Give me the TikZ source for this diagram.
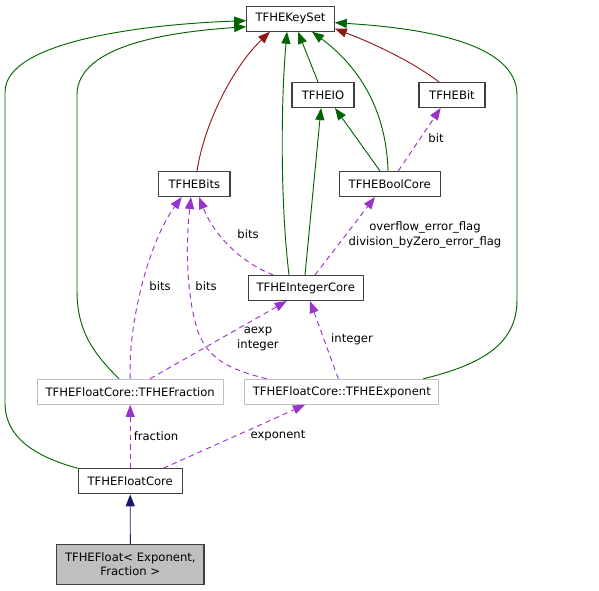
\documentclass[tikz,border=0pt]{standalone}
\usepackage{fontspec}
\setmainfont{DejaVu Sans}
\usetikzlibrary{arrows.meta,calc}
\definecolor{inhgreen}{HTML}{006400}
\definecolor{inhred}{HTML}{8B1A1A}
\definecolor{usepurple}{HTML}{9A32CD}
\definecolor{inhnavy}{HTML}{191970}
\definecolor{boxborder}{HTML}{404040}
\definecolor{lightborder}{HTML}{BFBFBF}
\tikzset{
  cls/.style={draw=boxborder, line width=0.8pt, fill=white, minimum height=18.75pt, inner sep=0pt, font=\fontsize{8.7pt}{10.8pt}\selectfont},
  ext/.style={cls, draw=lightborder},
  lbl/.style={inner sep=0pt, align=center, font=\fontsize{8.7pt}{11.2pt}\selectfont},
  ginh/.style={-{Triangle[length=9pt,width=6.8pt,fill=inhgreen]}, draw=inhgreen, line width=0.7pt},
  rinh/.style={-{Triangle[length=9pt,width=6.8pt,fill=inhred]}, draw=inhred, line width=0.7pt},
  ninh/.style={-{Triangle[length=9pt,width=6.8pt,fill=inhnavy]}, draw=inhnavy, line width=0.7pt},
  puse/.style={-{Triangle[length=9pt,width=6.8pt,fill=usepurple]}, draw=usepurple, line width=0.7pt, dash pattern=on 4pt off 3pt},
}
\begin{document}
\begin{tikzpicture}[x=0.75pt,y=-0.75pt]
\useasboundingbox (0,0) rectangle (599,591);
% nodes
\node[cls, minimum width=65.7pt] (ks) at (290.5,18.7) {TFHEKeySet};
\node[cls, minimum width=46.5pt] (io) at (323,95) {TFHEIO};
\node[cls, minimum width=49.5pt] (bit) at (452,95) {TFHEBit};
\node[cls, minimum width=53.5pt] (bits) at (194.3,184) {TFHEBits};
\node[cls, minimum width=75.5pt] (bool) at (389.7,184) {TFHEBoolCore};
\node[cls, minimum width=86.5pt] (int) at (305.7,288) {TFHEIntegerCore};
\node[ext, minimum width=139.7pt] (frac) at (130.2,391.8) {TFHEFloatCore::TFHEFraction};
\node[ext, minimum width=145.7pt] (expo) at (341.8,391.8) {TFHEFloatCore::TFHEExponent};
\node[cls, minimum width=77.8pt] (fc) at (130.2,481.3) {TFHEFloatCore};
\node[cls, minimum width=110.5pt, minimum height=29.8pt, fill=lightborder, align=center] (fl) at (130.3,564.2) {TFHEFloat\textless{} Exponent,\\ Fraction \textgreater{}};
% inheritance edges to KeySet
\draw[ginh] (fc.north west) .. controls (40,458) and (5,440) .. (5,403) -- (5,92) .. controls (5,40) and (150,24) .. ($(ks.west)+(0,2)$);
\draw[ginh] ($(frac.north)+(-11.2,0)$) .. controls (92,352) and (77,330) .. (77,290) -- (77,95) .. controls (77,45) and (170,32) .. ($(ks.west)+(0,8)$);
\draw[ginh] ($(expo.north)+(81.5,0)$) .. controls (480,365) and (517,345) .. (517,300) -- (517,95) .. controls (517,42) and (420,28) .. ($(ks.east)+(0,4)$);
\draw[rinh] ($(bits.north)+(2.7,0)$) .. controls (205,120) and (235,65) .. ($(ks.south)+(-20.5,0)$);
\draw[ginh] ($(int.north)+(-16.7,0)$) .. controls (280,200) and (281,100) .. ($(ks.south)+(-3.5,0)$);
\draw[ginh] ($(io.north)+(-5,0)$) -- ($(ks.south)+(7.5,0)$);
\draw[ginh] ($(bool.north)+(-1.7,0)$) .. controls (386,100) and (350,60) .. ($(ks.south)+(21.5,0)$);
\draw[rinh] ($(bit.north)+(-13,0)$) .. controls (410,60) and (370,42) .. ($(ks.east)+(0,10)$);
% inheritance to IO
\draw[ginh] ($(int.north)+(-0.7,0)$) -- ($(io.south)+(-2,0)$);
\draw[ginh] ($(bool.north)+(-9.7,0)$) -- ($(io.south)+(12,0)$);
% usage edges
\draw[puse] ($(bool.north)+(8.6,0)$) -- ($(bit.south)+(-11.3,0)$);
\node[lbl] (lbit) at (436,138) {bit};
\draw[puse] ($(int.north)+(9.3,0)$) -- ($(bool.south)+(-14.7,0)$);
\node[lbl] (lflags) at (425,235) {overflow\_error\_flag\\division\_byZero\_error\_flag};
\draw[puse] ($(int.north)+(-32.4,0)$) .. controls (240,262) and (214,235) .. ($(bits.south)+(4.7,0)$);
\node[lbl] (lbits1) at (248,234) {bits};
\draw[puse] ($(frac.north)+(0,0)$) .. controls (128,320) and (150,240) .. ($(bits.south)+(-12.6,0)$);
\node[lbl] (lbits2) at (160,286) {bits};
\draw[puse] ($(expo.north)+(-75.1,0)$) .. controls (232,370) and (205,360) .. (196,325) .. controls (186,290) and (186,240) .. ($(bits.south)+(-3.3,0)$);
\node[lbl] (lbits3) at (206,286) {bits};
\draw[puse] ($(frac.north)+(19.8,0)$) -- ($(int.south)+(-19,0)$);
\node[lbl] (laexp) at (258,339) {aexp\\integer};
\draw[puse] ($(expo.north)+(-3.5,0)$) -- ($(int.south)+(4.3,0)$);
\node[lbl] (lint) at (352,339) {integer};
\draw[puse] (fc.north) -- (frac.south);
\node[lbl, anchor=west] (lfrac) at (133.5,435.7) {fraction};
\draw[puse] ($(fc.north)+(33.1,0)$) -- ($(expo.south)+(-36.8,0)$);
\node[lbl] (lexpo) at (278,435.7) {exponent};
\draw[ninh] (fl.north) -- (fc.south);
\end{tikzpicture}
\end{document}
